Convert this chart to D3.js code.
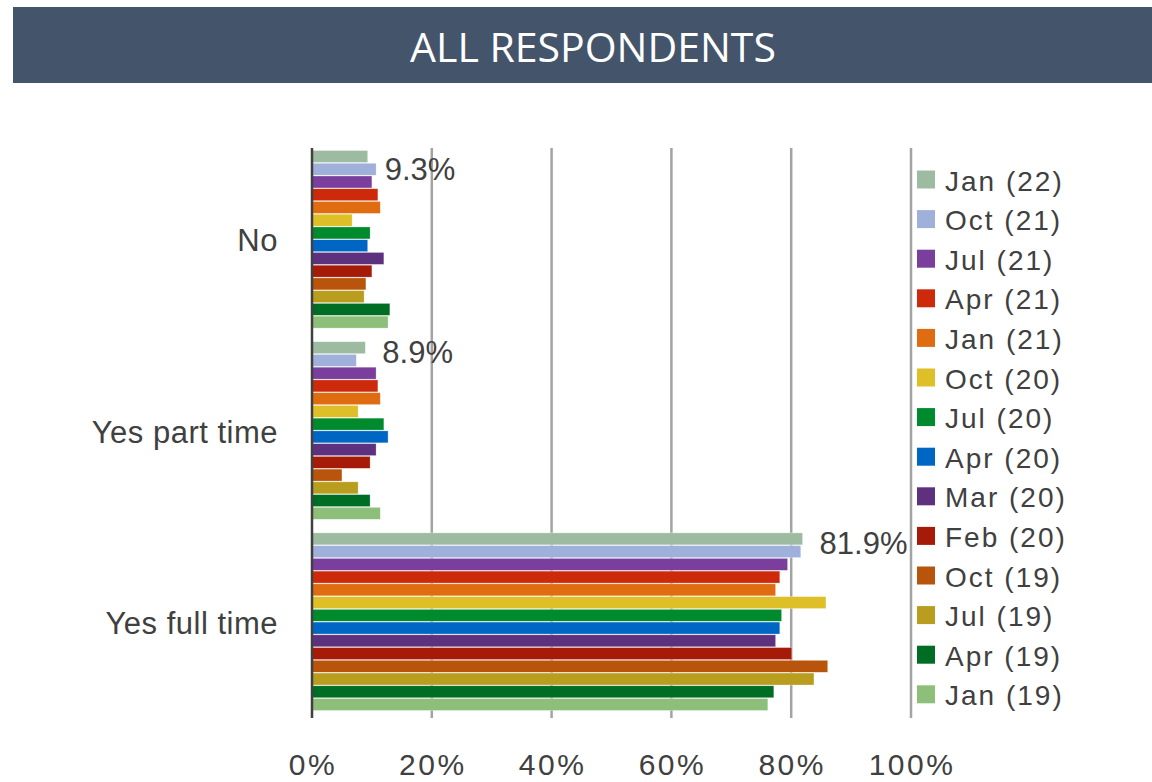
<!DOCTYPE html>
<html>
<head>
<meta charset="utf-8">
<script src="https://cdn.jsdelivr.net/npm/d3@7"></script>
<style>
  body { margin: 0; background: #fff; }
  text { font-family: "Liberation Sans", Arial, sans-serif; fill: #404040; }
</style>
</head>
<body>
<svg id="chart" width="1152" height="782"></svg>
<script>
var categories = ["No", "Yes part time", "Yes full time"];
var series = ["Jan (22)", "Oct (21)", "Jul (21)", "Apr (21)", "Jan (21)", "Oct (20)", "Jul (20)",
              "Apr (20)", "Mar (20)", "Feb (20)", "Oct (19)", "Jul (19)", "Apr (19)", "Jan (19)"];
var colors = ["#9dbba0", "#9fb0da", "#7a3f9d", "#cc2a0a", "#e06c12", "#dfbf27", "#008a2e",
              "#0066c4", "#5e317f", "#a51b08", "#b8540b", "#b89d1f", "#006d24", "#8dbf7a"];
// one row per series, values for No / Yes part time / Yes full time
var values = [
  [9.3, 8.9, 81.9],
  [10.7, 7.4, 81.6],
  [10.0, 10.7, 79.4],
  [11.0, 11.0, 78.1],
  [11.4, 11.4, 77.4],
  [6.7, 7.7, 85.8],
  [9.7, 12.0, 78.4],
  [9.3, 12.7, 78.1],
  [12.0, 10.7, 77.4],
  [10.0, 9.7, 80.1],
  [9.0, 5.0, 86.1],
  [8.7, 7.7, 83.8],
  [13.0, 9.7, 77.1],
  [12.7, 11.4, 76.1]
];
var ticks = [0, 20, 40, 60, 80, 100];
var labelSeries = "Jan (22)";

var svg = d3.select("#chart");

// title banner
svg.append("rect")
    .attr("x", 13).attr("y", 7)
    .attr("width", 1139).attr("height", 76)
    .attr("fill", "#44546a");
svg.append("text")
    .attr("x", 593).attr("y", 62)
    .attr("text-anchor", "middle")
    .style("font-family", "'Open Sans', sans-serif")
    .style("font-size", "41px")
    .style("fill", "#fff")
    .text("ALL RESPONDENTS");

var x = d3.scaleLinear().domain([0, 100]).range([312, 911]);
var y = d3.scaleBand().domain(categories).range([144, 717])
    .paddingInner(0.063).paddingOuter(0.03);
var ys = d3.scaleBand().domain(series).range([0, y.bandwidth()]).padding(0.06);

var plotTop = 148, plotBottom = 718;

// gridlines
svg.append("g")
  .selectAll("line")
  .data(ticks.slice(1))
  .enter().append("line")
    .attr("x1", function(d) { return x(d); })
    .attr("x2", function(d) { return x(d); })
    .attr("y1", plotTop).attr("y2", plotBottom)
    .attr("stroke", "#a3a3a3")
    .attr("stroke-width", 2.5);

// bars
var rows = [];
series.forEach(function(s, i) {
  categories.forEach(function(c, j) {
    rows.push({series: s, cat: c, value: values[i][j], color: colors[i]});
  });
});

svg.append("g")
  .selectAll("rect")
  .data(rows)
  .enter().append("rect")
    .attr("x", x(0))
    .attr("y", function(d) { return y(d.cat) + ys(d.series); })
    .attr("width", function(d) { return x(d.value) - x(0); })
    .attr("height", ys.bandwidth())
    .attr("fill", function(d) { return d.color; })
    .attr("stroke", "rgba(255,255,255,0.5)")
    .attr("stroke-width", 0.6);

// data labels for the latest wave (kept inside the plot top)
svg.append("g")
  .selectAll("text")
  .data(rows.filter(function(d) { return d.series === labelSeries; }))
  .enter().append("text")
    .attr("x", function(d) { return x(d.value) + 17; })
    .attr("y", function(d) {
      return Math.max(y(d.cat) + ys(d.series) + ys.bandwidth() / 2 + 15, 180);
    })
    .style("font-size", "31px")
    .text(function(d) { return d.value.toFixed(1) + "%"; });

// axis line at 0
svg.append("line")
    .attr("x1", x(0)).attr("x2", x(0))
    .attr("y1", plotTop).attr("y2", plotBottom)
    .attr("stroke", "#404040")
    .attr("stroke-width", 2.5);

// category labels
svg.append("g")
  .selectAll("text")
  .data(categories)
  .enter().append("text")
    .attr("x", 278)
    .attr("y", function(d) { return y(d) + y.bandwidth() / 2 + 12; })
    .attr("text-anchor", "end")
    .style("font-size", "31px")
    .style("letter-spacing", "0.5px")
    .text(function(d) { return d; });

// x tick labels
svg.append("g")
  .selectAll("text")
  .data(ticks)
  .enter().append("text")
    .attr("x", function(d) { return x(d) + 1; })
    .attr("y", 775)
    .attr("text-anchor", "middle")
    .style("font-size", "30px")
    .style("letter-spacing", "2.5px")
    .text(function(d) { return d + "%"; });

// legend
var legend = svg.append("g")
  .selectAll("g")
  .data(series)
  .enter().append("g")
    .attr("transform", function(d, i) { return "translate(917," + (179.5 + i * 39.6) + ")"; });

legend.append("rect")
    .attr("x", 0).attr("y", -9)
    .attr("width", 18).attr("height", 18)
    .attr("fill", function(d, i) { return colors[i]; });

legend.append("text")
    .attr("x", 28).attr("y", 11)
    .style("font-size", "28px")
    .style("letter-spacing", "2px")
    .text(function(d) { return d; });
</script>
</body>
</html>
